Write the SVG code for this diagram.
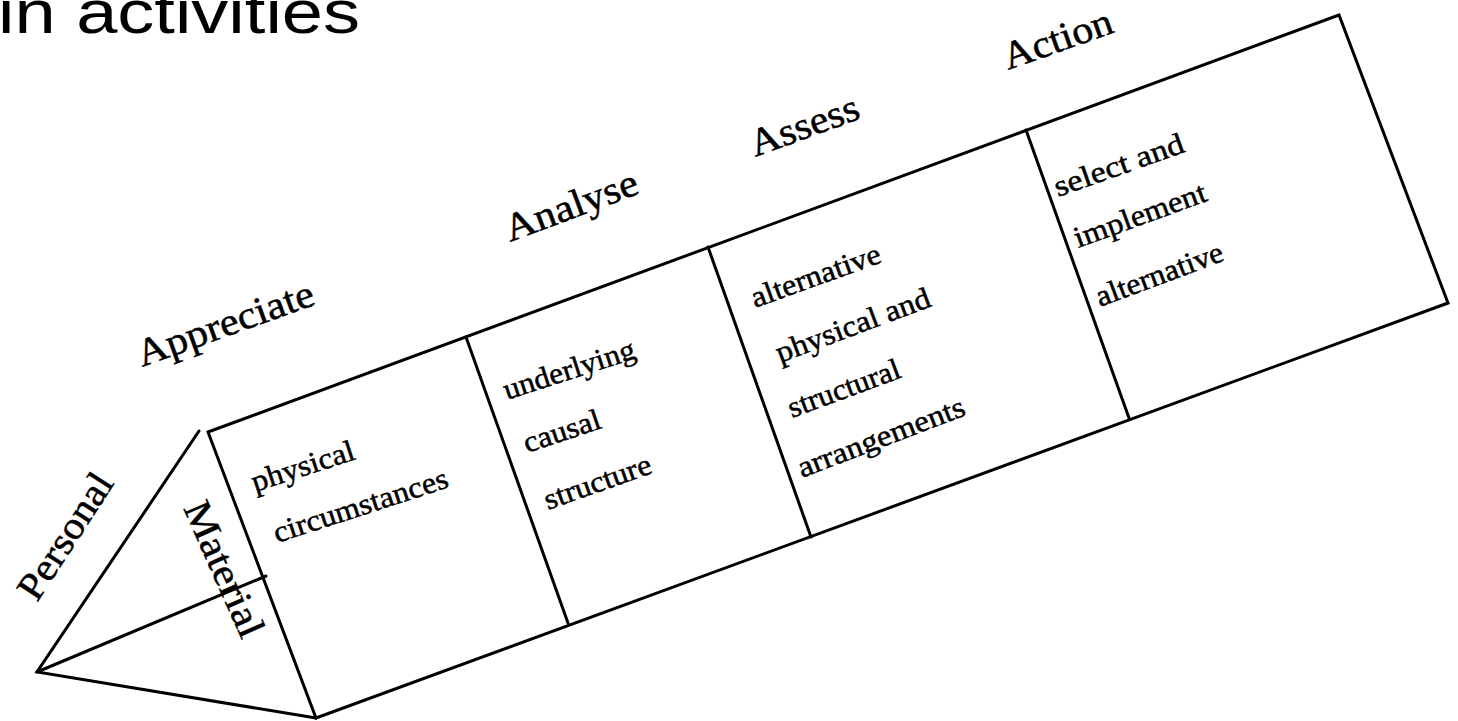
<svg xmlns="http://www.w3.org/2000/svg" width="1458" height="721" viewBox="0 0 1458 721">
<style>
.ln{stroke:#000;stroke-width:3;fill:none;stroke-linecap:round;stroke-linejoin:miter}
.t{font-family:"Liberation Serif","Times New Roman",serif;fill:#000;stroke:#000;stroke-width:0.5}
.h{font-size:39px}
.b{font-size:30px}
.top{font-family:"Liberation Sans",Arial,sans-serif;font-size:62px;fill:#000}
</style>
<rect width="1458" height="721" fill="#fff"/>
<text class="top" x="-2" y="33" textLength="362" lengthAdjust="spacingAndGlyphs">in activities</text>
<g id="prism">
<g id="end-triangle">
<polyline class="ln" points="199,431 37,672 316,718"/>
<line class="ln" x1="37" y1="672" x2="266" y2="576"/>
</g>
<g id="body">
<polygon class="ln" points="208,432 1339,15 1448,303 316,718"/>
<line class="ln" x1="466" y1="337" x2="568" y2="623"/>
<line class="ln" x1="708" y1="247" x2="811" y2="537"/>
<line class="ln" x1="1026" y1="130" x2="1129" y2="418"/>
</g>
</g>
<g id="side-labels">
<text class="t h" x="37" y="603" transform="rotate(-57 37 603)" textLength="143" lengthAdjust="spacingAndGlyphs">Personal</text>
<text class="t h" x="183" y="508" transform="rotate(66 183 508)" textLength="145" lengthAdjust="spacingAndGlyphs">Material</text>
</g>
<g id="stage-appreciate">
<text class="t h" x="142" y="367" transform="rotate(-19.8 142 367)" textLength="186" lengthAdjust="spacingAndGlyphs">Appreciate</text>
<text class="t b" x="255" y="492" transform="rotate(-18 255 492)" textLength="107" lengthAdjust="spacingAndGlyphs">physical</text>
<text class="t b" x="277" y="543" transform="rotate(-18 277 543)" textLength="182" lengthAdjust="spacingAndGlyphs">circumstances</text>
</g>
<g id="stage-analyse">
<text class="t h" x="510" y="242" transform="rotate(-20.5 510 242)" textLength="140" lengthAdjust="spacingAndGlyphs">Analyse</text>
<text class="t b" x="507" y="400" transform="rotate(-18 507 400)" textLength="137" lengthAdjust="spacingAndGlyphs">underlying</text>
<text class="t b" x="527" y="453" transform="rotate(-18.5 527 453)" textLength="80" lengthAdjust="spacingAndGlyphs">causal</text>
<text class="t b" x="548" y="510" transform="rotate(-19.5 548 510)" textLength="112" lengthAdjust="spacingAndGlyphs">structure</text>
</g>
<g id="stage-assess">
<text class="t h" x="755" y="157" transform="rotate(-20 755 157)" textLength="114" lengthAdjust="spacingAndGlyphs">Assess</text>
<text class="t b" x="755" y="308" transform="rotate(-19.8 755 308)" textLength="136" lengthAdjust="spacingAndGlyphs">alternative</text>
<text class="t b" x="780" y="363" transform="rotate(-20.5 780 363)" textLength="163" lengthAdjust="spacingAndGlyphs">physical and</text>
<text class="t b" x="792" y="418" transform="rotate(-20.3 792 418)" textLength="118" lengthAdjust="spacingAndGlyphs">structural</text>
<text class="t b" x="802" y="478" transform="rotate(-21 802 478)" textLength="177" lengthAdjust="spacingAndGlyphs">arrangements</text>
</g>
<g id="stage-action">
<text class="t h" x="1008" y="70" transform="rotate(-19.5 1008 70)" textLength="114" lengthAdjust="spacingAndGlyphs">Action</text>
<text class="t b" x="1058" y="197" transform="rotate(-19.5 1058 197)" textLength="136" lengthAdjust="spacingAndGlyphs">select  and</text>
<text class="t b" x="1078" y="248" transform="rotate(-20 1078 248)" textLength="139" lengthAdjust="spacingAndGlyphs">implement</text>
<text class="t b" x="1100" y="307" transform="rotate(-20.5 1100 307)" textLength="134" lengthAdjust="spacingAndGlyphs">alternative</text>
</g>
</svg>
